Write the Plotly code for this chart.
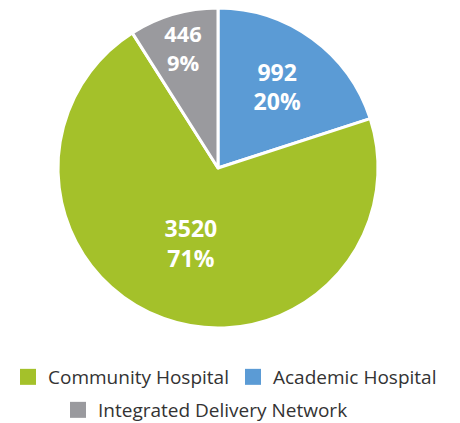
import plotly.graph_objects as go

labels = ["Academic Hospital", "Community Hospital", "Integrated Delivery Network"]
values = [992, 3520, 446]
colors = ["#5B9BD5", "#A4C12A", "#9A9A9E"]
legend_row1 = ["Community Hospital", "Academic Hospital"]
legend_row2 = ["Integrated Delivery Network"]

FONT = "Open Sans"
W, H = 460, 423
OFF = 8  # page body margin offset

fig = go.Figure()
fig.add_trace(go.Pie(
    labels=labels, values=values, sort=False, direction="clockwise", rotation=0,
    marker=dict(colors=colors, line=dict(color="white", width=3)),
    texttemplate="%{value}<br>%{percent:.0%}",
    textposition="inside", insidetextorientation="horizontal",
    insidetextfont=dict(family=FONT, size=23, color="white", weight="bold"),
    showlegend=False, hoverinfo="label+value+percent",
    domain=dict(x=[(58 - OFF) / W, (378 - OFF) / W], y=[1 - (328 - OFF) / H, 1 - (8 - OFF) / H]),
))

cmap = dict(zip(labels, colors))
for name in legend_row1:
    fig.add_trace(go.Scatter(
        x=[None], y=[None], mode="markers", name=name, legend="legend",
        marker=dict(symbol="square", size=17, color=cmap[name]),
    ))
for name in legend_row2:
    fig.add_trace(go.Scatter(
        x=[None], y=[None], mode="markers", name=name, legend="legend2",
        marker=dict(symbol="square", size=17, color=cmap[name]),
    ))

lfont = dict(size=19, family=FONT, color="#333333")
fig.update_layout(
    width=W, height=H,
    margin=dict(l=0, r=0, t=0, b=0, autoexpand=False),
    paper_bgcolor="white", plot_bgcolor="white",
    xaxis=dict(visible=False), yaxis=dict(visible=False),
    font=dict(family=FONT, color="#333333"),
    legend=dict(orientation="h", x=0, xanchor="left", y=1 - (377 - OFF) / H, yanchor="middle",
                font=lfont, itemwidth=30, entrywidth=180, entrywidthmode="pixels",
                bgcolor="rgba(0,0,0,0)"),
    legend2=dict(orientation="h", x=(72 - 22) / W, xanchor="left", y=1 - (410 - OFF) / H, yanchor="middle",
                 font=lfont, itemwidth=30, bgcolor="rgba(0,0,0,0)"),
)

fig.write_html("out.html")
